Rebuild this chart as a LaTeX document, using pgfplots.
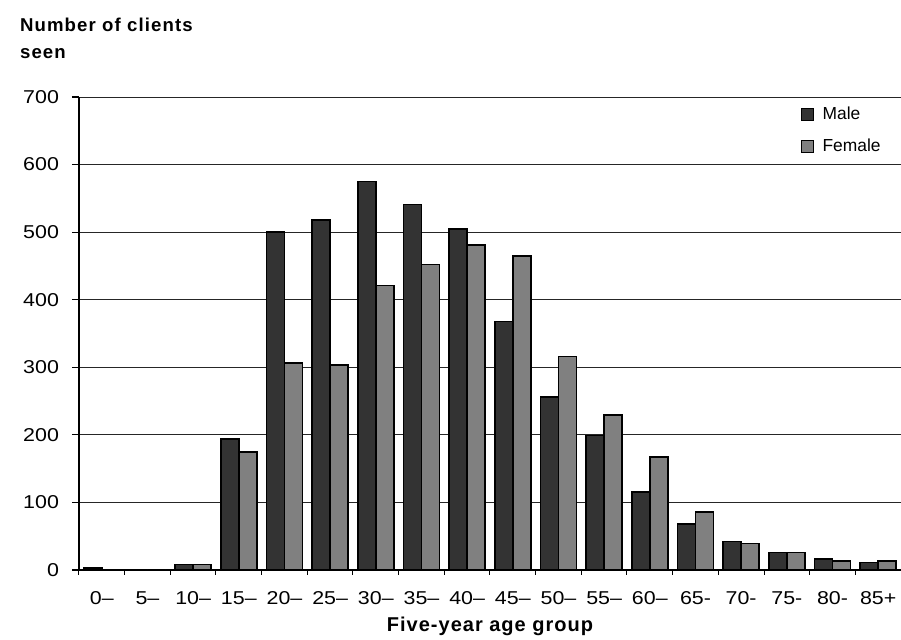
\documentclass[border=0pt]{standalone}
\usepackage{pgfplots}
\pgfplotsset{compat=1.18}
\usepackage{fontspec}
\setmainfont{Liberation Sans}
\newfontfamily\widefont{Liberation Sans}[FakeStretch=1.15]
\newfontfamily\titlefont{Liberation Sans}[LetterSpace=6]
\newfontfamily\xlabfont{Liberation Sans}[LetterSpace=5]
\definecolor{male}{HTML}{333333}
\definecolor{female}{HTML}{808080}
\begin{document}
\begin{tikzpicture}
\useasboundingbox (-39.5pt,-35pt) rectangle (411pt,285pt);
\begin{axis}[
  at={(0pt,0pt)}, anchor=south west,
  scale only axis, width=411pt, height=236.5pt,
  ybar=0pt, bar width=9pt,
  ymin=0, ymax=700, ytick={0,100,...,700},
  xmin=-0.5, xmax=17.5,
  xtick={0,...,17},
  xticklabels={0–,5–,10–,15–,20–,25–,30–,35–,40–,45–,50–,55–,60–,65-,70-,75-,80-,85+},
  minor xtick={-0.5,0.5,...,17.5},
  axis x line*=bottom, axis y line*=left,
  axis line style={-, black, line width=0.7pt},
  ymajorgrids, grid style={black!85, line width=0.5pt},
  tick align=outside,
  major x tick style={draw=none},
  minor x tick style={black, line width=0.5pt},
  minor tick length=2.5pt,
  y tick style={black, line width=0.6pt},
  major tick length=3.5pt,
  /pgf/number format/assume math mode=true,
  tick label style={font=\widefont\fontsize{9.3}{10}\selectfont},
  yticklabel style={xshift=-3pt},
  xticklabel style={anchor=base, yshift=-14pt},
  xlabel={Five-year age group},
  xlabel style={font=\xlabfont\bfseries\fontsize{10}{11}\selectfont, at={(axis description cs:0.5,0)}, anchor=base, yshift=-31pt},
  legend style={at={(axis description cs:1,1)}, anchor=north east, xshift=-5pt, yshift=-0.5pt, draw=none, fill=none,
    font=\fontsize{8.7}{10}\selectfont, row sep=4.5pt, cells={anchor=west}},
  legend image code/.code={\draw[#1, line width=0.6pt] (0pt,-3pt) rectangle (6pt,3pt); \path (8pt,0pt);},
]
\addplot[fill=male, draw=black, line width=0.8pt] coordinates {
(0,3) (1,0) (2,8) (3,194) (4,500) (5,518) (6,575) (7,541) (8,505) (9,368) (10,256) (11,199) (12,115) (13,68) (14,42) (15,26) (16,16) (17,11)};
\addplot[fill=female, draw=black, line width=0.8pt] coordinates {
(0,0) (1,0) (2,8) (3,175) (4,306) (5,303) (6,421) (7,452) (8,481) (9,465) (10,316) (11,229) (12,167) (13,86) (14,39) (15,26) (16,13) (17,13)};
\legend{Male,Female}
\end{axis}
\node[anchor=base west, font=\titlefont\bfseries\fontsize{9.3}{10}\selectfont] at (-33pt,269pt) {Number of clients};
\node[anchor=base west, font=\titlefont\bfseries\fontsize{9.3}{10}\selectfont] at (-33pt,255.5pt) {seen};
\end{tikzpicture}
\end{document}
